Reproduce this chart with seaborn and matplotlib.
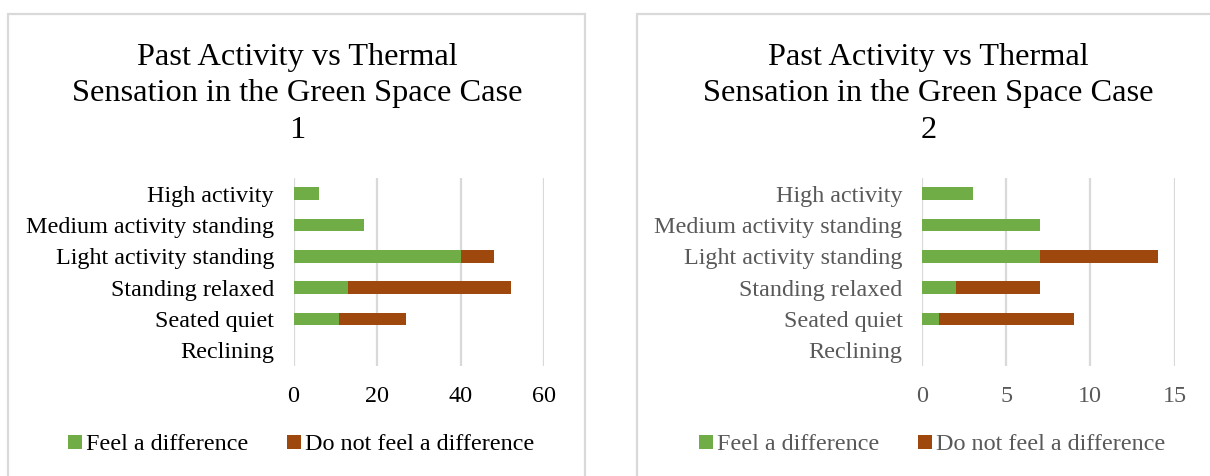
import matplotlib
matplotlib.use("Agg")
import matplotlib.pyplot as plt
from matplotlib.patches import Rectangle, Patch
import pandas as pd
import seaborn as sns

sns.set_theme(style="white")
plt.rcParams["font.family"] = ["Liberation Serif", "DejaVu Serif"]

activities = ["High activity", "Medium activity standing", "Light activity standing",
              "Standing relaxed", "Seated quiet", "Reclining"]
series_names = ["Feel a difference", "Do not feel a difference"]

case1_feel = [6, 17, 40, 13, 11, 0]
case1_not_feel = [0, 0, 8, 39, 16, 0]
case2_feel = [3, 7, 7, 2, 1, 0]
case2_not_feel = [0, 0, 7, 5, 8, 0]

case1_ticks = [0, 20, 40, 60]
case2_ticks = [0, 5, 10, 15]

titles = ["Past Activity vs Thermal\nSensation in the Green Space Case\n1",
          "Past Activity vs Thermal\nSensation in the Green Space Case\n2"]

GREEN = "#70AD47"
BROWN = "#9E480E"
GRID = "#D9D9D9"

W, H = 1210, 476
fig = plt.figure(figsize=(W / 100, H / 100), dpi=100)


def fx(px):
    return px / W


def fy(py):
    return 1 - py / H


panels = [
    dict(box=(8, 585), ax_x=(293.5, 544), feel=case1_feel, notfeel=case1_not_feel,
         ticks=case1_ticks, text_color="#000000", title=titles[0]),
    dict(box=(637, 1218), ax_x=(922, 1174.5), feel=case2_feel, notfeel=case2_not_feel,
         ticks=case2_ticks, text_color="#595959", title=titles[1]),
]

ax_top, ax_bot = 178, 366

for p in panels:
    x0, x1 = p["box"]
    # chart-area frame, open at the bottom edge of the figure
    fig.patches.append(Rectangle((fx(x0), fy(H + 10)), fx(x1 - x0), fy(13.5) - fy(H + 10),
                                 transform=fig.transFigure, fill=False,
                                 edgecolor=GRID, linewidth=1.6, zorder=0))

    ax = fig.add_axes([fx(p["ax_x"][0]), fy(ax_bot),
                       fx(p["ax_x"][1] - p["ax_x"][0]), (ax_bot - ax_top) / H])
    df = pd.DataFrame({
        "activity": activities,
        "feel": p["feel"],
        "total": [a + b for a, b in zip(p["feel"], p["notfeel"])],
    })
    # stacked bars: full total in brown, the "feel" part drawn over it in green
    sns.barplot(data=df, y="activity", x="total", orient="y", color=BROWN,
                width=0.4, saturation=1, linewidth=0, edgecolor="none", ax=ax, zorder=3)
    sns.barplot(data=df, y="activity", x="feel", orient="y", color=GREEN,
                width=0.4, saturation=1, linewidth=0, edgecolor="none", ax=ax, zorder=4)

    ax.set_xlim(p["ticks"][0], p["ticks"][-1])
    ax.set_ylim(len(activities) - 0.5, -0.5)
    ax.set_xticks(p["ticks"])
    ax.set_xlabel("")
    ax.set_ylabel("")
    for s in ax.spines.values():
        s.set_visible(False)
    ax.grid(False)
    for t in p["ticks"]:
        ax.axvline(t, color=GRID, linewidth=1.6, zorder=1)
    ax.tick_params(axis="both", length=0, labelsize=17.4, colors=p["text_color"])
    ax.tick_params(axis="y", pad=14)
    ax.tick_params(axis="x", pad=14.5)
    ax.set_facecolor("none")

    cx = (x0 + x1) / 2
    fig.text(fx(cx + 1), fy(43), p["title"], ha="center", va="top", fontsize=23.3,
             color="#000000", linespacing=1.34, transform=fig.transFigure)
    handles = [Patch(facecolor=GREEN, edgecolor="none"), Patch(facecolor=BROWN, edgecolor="none")]
    fig.legend(handles, series_names, loc="center", ncol=2,
               bbox_to_anchor=(fx(cx + 5), fy(445)), frameon=False, fontsize=17.4,
               labelcolor=p["text_color"], handlelength=0.55, handleheight=0.55,
               handletextpad=0.2, columnspacing=1.6, borderaxespad=0)

fig.savefig("out.png", dpi=100, facecolor="white")
